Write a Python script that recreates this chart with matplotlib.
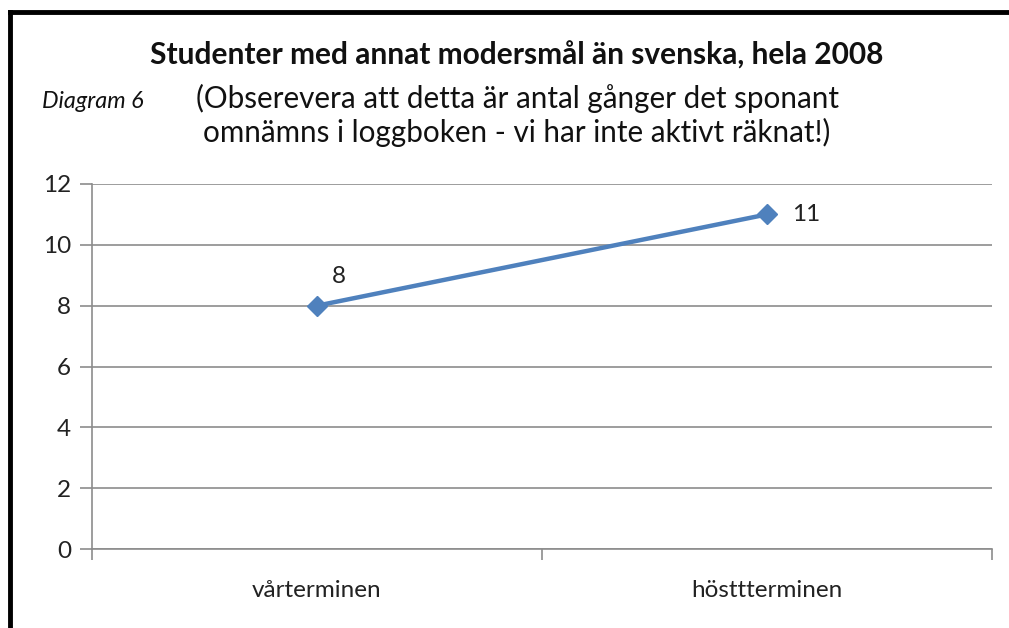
import matplotlib
matplotlib.use("Agg")
import matplotlib.pyplot as plt
from matplotlib.lines import Line2D

# === Data ===
terms = ["vårterminen", "hösttterminen"]
counts = [8, 11]
yticks = [0, 2, 4, 6, 8, 10, 12]

TITLE = "Studenter med annat modersmål än svenska, hela 2008"
SUBTITLE = "(Obserevera att detta är antal gånger det sponant\nomnämns i loggboken - vi har inte aktivt räknat!)"

plt.rcParams["font.family"] = ["Lato", "DejaVu Sans"]
GRID = "#8c8c8c"
BLUE = "#4f81bd"
TXT = "#222222"
FS = 17.5

fig = plt.figure(figsize=(10.09, 6.28), dpi=100)
ax = fig.add_axes([92 / 1009, 1 - 549 / 628, 900 / 1009, 365 / 628])

x = [0.5, 1.5]
ax.plot(x, counts, color=BLUE, lw=3.2, marker="D", ms=10, mec=BLUE, mfc=BLUE,
        solid_capstyle="round", zorder=3)

# data labels
ax.annotate(str(counts[0]), (x[0], counts[0]), xytext=(22, 29), textcoords="offset pixels",
            ha="center", va="center", fontsize=FS, color=TXT)
ax.annotate(str(counts[1]), (x[1], counts[1]), xytext=(39, 0), textcoords="offset pixels",
            ha="center", va="center", fontsize=FS, color=TXT)

ax.set_xlim(0, 2)
ax.set_ylim(0, 12)
ax.set_yticks(yticks)
ax.set_yticklabels([str(v) for v in yticks], fontsize=FS, color=TXT)
ax.yaxis.grid(True, color=GRID, lw=1.2)
ax.set_axisbelow(True)

# category ticks between the categories, labels centred under them
ax.set_xticks([0, 1, 2])
ax.set_xticklabels([])
ax.set_xticks(x, minor=True)
ax.set_xticklabels(terms, minor=True, fontsize=FS, color=TXT)
ax.tick_params(axis="x", which="minor", length=0, pad=22)
ax.tick_params(axis="x", which="major", length=8, color=GRID, width=1.2)
ax.tick_params(axis="y", length=9, color=GRID, width=1.2, pad=6)

for s in ["top", "right"]:
    ax.spines[s].set_visible(False)
for s in ["left", "bottom"]:
    ax.spines[s].set_color(GRID)
    ax.spines[s].set_linewidth(1.2)

# titles
fig.text(517 / 1009, 1 - 55 / 628, TITLE, ha="center", va="center",
         fontsize=21.5, fontweight="bold", color="#111111")
fig.text(517 / 1009, 1 - 115 / 628, SUBTITLE, ha="center", va="center",
         fontsize=21.3, color="#111111", linespacing=1.2)
fig.text(42 / 1009, 1 - 101 / 628, "Diagram 6", ha="left", va="center",
         fontsize=16.8, style="italic", color="#111111")

# frame border (top and left)
fig.add_artist(Line2D([10 / 1009, 10 / 1009], [0, 1 - 12 / 628], transform=fig.transFigure,
                      color="black", lw=3.5, solid_capstyle="projecting"))
fig.add_artist(Line2D([10 / 1009, 1], [1 - 12 / 628, 1 - 12 / 628], transform=fig.transFigure,
                      color="black", lw=3.5, solid_capstyle="projecting"))

fig.savefig("out.png", dpi=100)
